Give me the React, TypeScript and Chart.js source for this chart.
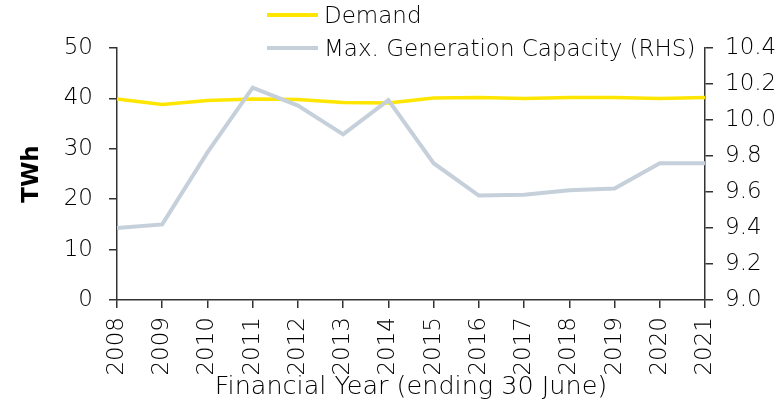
import React, { useEffect, useRef } from "react";
import { Chart, registerables } from "chart.js";

Chart.register(...registerables);

const years = ["2008", "2009", "2010", "2011", "2012", "2013", "2014", "2015", "2016", "2017", "2018", "2019", "2020", "2021"];
const demand = [39.9, 38.8, 39.6, 39.9, 39.8, 39.2, 39.1, 40.1, 40.2, 40.0, 40.2, 40.2, 40.0, 40.2];
const capacity = [9.4, 9.42, 9.82, 10.18, 10.08, 9.92, 10.11, 9.76, 9.58, 9.585, 9.61, 9.62, 9.76, 9.76];
const seriesLabels = ["Demand", "Max. Generation Capacity (RHS)"];
const leftTitle = "TWh";
const xTitle = "Financial Year (ending 30 June)";

const FONT = "'DejaVu Sans', 'Open Sans', sans-serif";
const TEXT = "#000000";
const AXIS = "#333333";

const legendPlugin = {
  id: "stackedLegend",
  afterDraw(chart: any) {
    const ctx = chart.ctx;
    const rows = [15, 48];
    ctx.save();
    chart.data.datasets.forEach((ds: any, i: number) => {
      const y = rows[i];
      ctx.strokeStyle = ds.borderColor;
      ctx.lineWidth = 4;
      ctx.beginPath();
      ctx.moveTo(267, y);
      ctx.lineTo(318, y);
      ctx.stroke();
      ctx.fillStyle = TEXT;
      ctx.font = `200 23px ${FONT}`;
      ctx.textAlign = "left";
      ctx.textBaseline = "middle";
      ctx.fillText(ds.label, 324, y + 2);
    });
    ctx.restore();
  },
};

export default function App() {
  const ref = useRef<HTMLCanvasElement>(null);
  useEffect(() => {
    if (!ref.current) return;
    const chart = new Chart(ref.current, {
      type: "line",
      data: {
        labels: years,
        datasets: [
          {
            label: seriesLabels[0],
            data: demand,
            borderColor: "#FFE600",
            backgroundColor: "#FFE600",
            borderWidth: 3.5,
            pointRadius: 0,
            tension: 0,
            yAxisID: "y",
            order: 1,
          },
          {
            label: seriesLabels[1],
            data: capacity,
            borderColor: "#C5D0DA",
            backgroundColor: "#C5D0DA",
            borderWidth: 4,
            pointRadius: 0,
            tension: 0,
            yAxisID: "y2",
            order: 0,
          },
        ],
      },
      options: {
        responsive: false,
        animation: false,
        layout: { padding: { top: 48, left: 0, right: 0, bottom: 0 } },
        plugins: {
          legend: { display: false },
          tooltip: { enabled: false },
        },
        scales: {
          x: {
            offset: false,
            grid: { display: true, drawOnChartArea: false, drawTicks: true, tickLength: 8, color: AXIS, lineWidth: 1.5 },
            border: { display: true, color: AXIS, width: 1.5 },
            ticks: {
              color: TEXT,
              font: { family: FONT, size: 23, weight: "200" },
              minRotation: 90,
              maxRotation: 90,
              autoSkip: false,
              padding: 9,
            },
            title: {
              display: true,
              text: xTitle,
              color: TEXT,
              font: { family: FONT, size: 25.5, weight: "200" },
              padding: { top: 0, bottom: 3 },
            },
            afterFit(scale: any) {
              scale.height = 106;
            },
          },
          y: {
            position: "left",
            min: 0,
            max: 50,
            grid: { display: true, drawOnChartArea: false, drawTicks: true, tickLength: 8, color: AXIS, lineWidth: 1.5 },
            border: { display: true, color: AXIS, width: 1.5 },
            ticks: {
              stepSize: 10,
              color: TEXT,
              font: { family: FONT, size: 23, weight: "200" },
              padding: 16,
            },
            title: {
              display: true,
              text: leftTitle,
              color: TEXT,
              font: { family: FONT, size: 23, weight: "bold" },
              padding: { top: 18, bottom: 0 },
            },
            afterFit(scale: any) {
              scale.width = 117;
            },
          },
          y2: {
            position: "right",
            min: 9.0,
            max: 10.4,
            grid: { display: true, drawOnChartArea: false, drawTicks: true, tickLength: 8, color: AXIS, lineWidth: 1.5 },
            border: { display: true, color: AXIS, width: 1.5 },
            ticks: {
              stepSize: 0.2,
              color: TEXT,
              font: { family: FONT, size: 23, weight: "200" },
              padding: 12,
              callback: (v: any) => Number(v).toFixed(1),
            },
            afterFit(scale: any) {
              scale.width = 70;
            },
          },
        },
      },
      plugins: [legendPlugin],
    } as any);
    return () => chart.destroy();
  }, []);
  return (
    <div style={{ position: "absolute", left: 0, top: 0, width: 775, height: 406 }}>
      <canvas ref={ref} width={775} height={406} style={{ display: "block" }} />
    </div>
  );
}
